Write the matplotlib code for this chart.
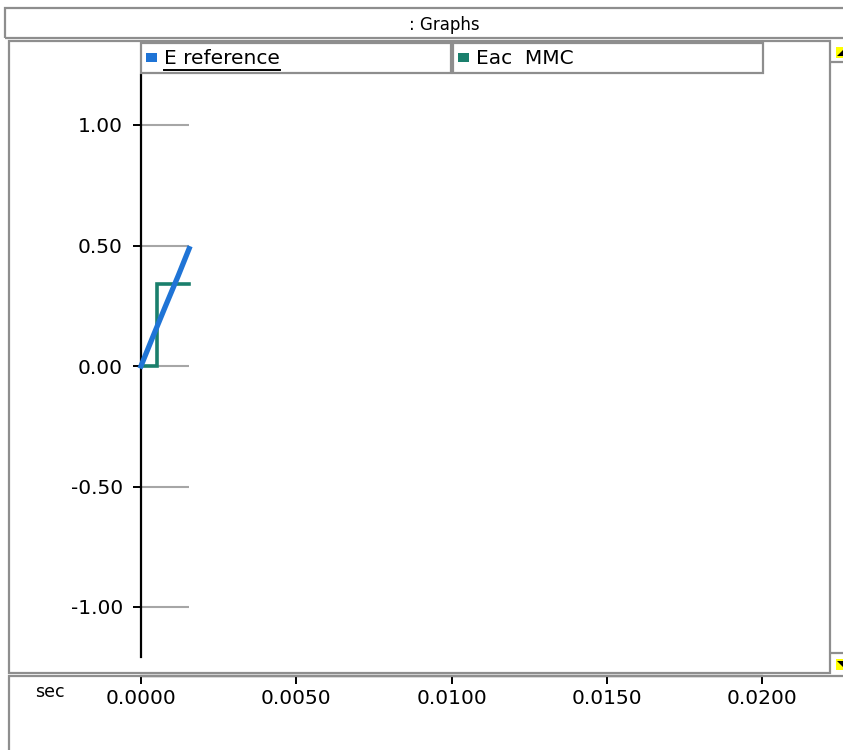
import matplotlib
matplotlib.use("Agg")
import matplotlib.pyplot as plt
from matplotlib.patches import Rectangle, Polygon
from matplotlib.lines import Line2D
from matplotlib.ticker import FormatStrFormatter

# data (simulation stopped early)
t_ref = [0.0, 0.0004, 0.0008, 0.0012, 0.00155]
e_ref = [0.0, 0.127, 0.252, 0.375, 0.487]
t_mmc = [0.0, 0.0005, 0.00155]
e_mmc = [0.0, 0.34, 0.34]

series_names = ["E reference", "Eac  MMC"]
series_colors = ["#1f74d6", "#1a7f6c"]

x_ticks = [0.0, 0.005, 0.01, 0.015, 0.02]
y_ticks = [-1.0, -0.5, 0.0, 0.5, 1.0]

W, H = 843, 750
GRAY = "#8e8e8e"


def fx(x):
    return x / W


def fy(y):
    return 1 - y / H


def box(fig, x0, y0, x1, y1, lw=1.6, ec=GRAY):
    r = Rectangle((fx(x0), fy(y1)), (x1 - x0) / W, (y1 - y0) / H,
                  transform=fig.transFigure, fill=False, ec=ec, lw=lw)
    fig.patches.append(r)
    return r


fig = plt.figure(figsize=(W / 100, H / 100), dpi=100)

# panels
box(fig, 5, 8, 870, 38)
box(fig, 9, 41, 830, 673)
box(fig, 9, 676, 870, 770)
fig.text(fx(444), fy(25), ": Graphs", ha="center", va="center", fontsize=12)
fig.text(fx(50), fy(692), "sec", ha="center", va="center", fontsize=12.5)

# scroll arrows on the right
for yline, ya, up in [(62, 47, True), (653, 659, False)]:
    fig.lines.append(Line2D([fx(832), fx(843)], [fy(yline), fy(yline)],
                            transform=fig.transFigure, color=GRAY, lw=1.6))
    fig.patches.append(Rectangle((fx(836), fy(ya + 11)), 8 / W, 11 / H,
                                 transform=fig.transFigure, color="#ffff00", lw=0))
    if up:
        pts = [(fx(837), fy(ya + 9)), (fx(843), fy(ya + 9)), (fx(843), fy(ya + 3))]
    else:
        pts = [(fx(837), fy(ya + 2)), (fx(843), fy(ya + 2)), (fx(843), fy(ya + 8))]
    fig.patches.append(Polygon(pts, closed=True, transform=fig.transFigure,
                               color="black", lw=0))

# main axes, laid out in pixels: t=0 at x=141, 0.02 at x=762; 1 at y=125, -1 at y=607
px0, px1, py0, py1 = 10, 830, 41, 673
x_zero, x_scale = 141, (762 - 141) / 0.02
y_zero, y_scale = 366, (607 - 125) / 2.0
ax = fig.add_axes([fx(px0), fy(py1), (px1 - px0) / W, (py1 - py0) / H])
ax.set_xlim((px0 - x_zero) / x_scale, (px1 - x_zero) / x_scale)
ax.set_ylim((y_zero - py1) / y_scale, (y_zero - py0) / y_scale)
ax.set_facecolor("none")

for s in ["top", "right"]:
    ax.spines[s].set_visible(False)
ax.spines["left"].set_position(("data", 0))
ax.spines["left"].set_bounds(-(657 - y_zero) / y_scale, (y_zero - 75) / y_scale)
ax.spines["left"].set_linewidth(1.6)
ax.spines["bottom"].set_position(("outward", 2.2))
ax.spines["bottom"].set_bounds(x_ticks[0], x_ticks[-1])
ax.spines["bottom"].set_linewidth(1.6)

ax.set_yticks(y_ticks)
ax.set_xticks(x_ticks)
ax.yaxis.set_major_formatter(FormatStrFormatter("%.2f"))
ax.xaxis.set_major_formatter(FormatStrFormatter("%.4f"))
ax.tick_params(axis="y", direction="out", length=6, width=1.4, pad=7, labelsize=14.5)
ax.tick_params(axis="x", direction="out", length=5.5, width=1.4, pad=4, labelsize=14.5)

# grid only drawn as far as the data goes
t_end = max(t_ref[-1], t_mmc[-1])
ax.hlines(y_ticks, 0, t_end, color="#a6a6a6", lw=1.5, zorder=1)

ax.plot(t_mmc, e_mmc, drawstyle="steps-post", color=series_colors[1], lw=2.6,
        solid_joinstyle="miter", zorder=2)
ax.plot(t_ref, e_ref, color=series_colors[0], lw=3.8, zorder=3)

# legend boxes
legend_boxes = [(141, 451), (453, 763)]
texts = []
for (lx0, lx1), name, col in zip(legend_boxes, series_names, series_colors):
    box(fig, lx0, 43, lx1, 73)
    fig.patches.append(Rectangle((fx(lx0 + 5), fy(62)), 11 / W, 9 / H,
                                 transform=fig.transFigure, color=col, lw=0))
    texts.append(fig.text(fx(lx0 + 23), fy(59), name, ha="left", va="center",
                          fontsize=14.5))

fig.canvas.draw()
bb = texts[0].get_window_extent()
fig.lines.append(Line2D([bb.x0 / W, bb.x1 / W], [fy(70), fy(70)],
                        transform=fig.transFigure, color="black", lw=1.4))

fig.savefig("out.png", dpi=100)
